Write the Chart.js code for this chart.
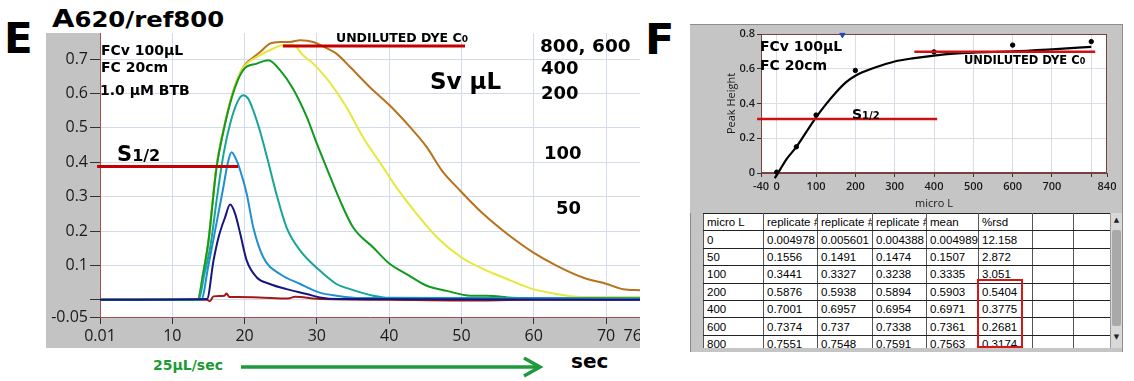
<!DOCTYPE html>
<html><head><meta charset="utf-8">
<script src="https://cdn.jsdelivr.net/npm/chart.js@4.4.1/dist/chart.umd.min.js"></script>
<style>
html,body{margin:0;padding:0;background:#fff}
body{width:1134px;height:381px;position:relative;overflow:hidden}
.t{position:absolute;font-family:"DejaVu Sans",sans-serif;font-weight:bold;color:#000;white-space:nowrap;line-height:1}
canvas{position:absolute}
#frameF{position:absolute;left:690px;top:24px;width:431px;height:327px;background:#c5c5c5;border:1px solid #8c8c8c;border-bottom:none}
#tblWrap{position:absolute;left:703px;top:213px;width:407px;height:135px;overflow:hidden;background:#fff}
#tbl{border-collapse:collapse;table-layout:fixed;width:407px;font-family:"Liberation Sans",Arial,sans-serif;font-size:11.5px;color:#000}
#tbl td{height:16.4px;padding:0 0 0 3px;border-left:1px solid #555;border-right:1px solid #555;border-top:1.6px solid #222;border-bottom:1.6px solid #222;overflow:hidden;white-space:nowrap;line-height:16px}
#scroll{position:absolute;left:1110px;top:213px;width:12px;height:135px;background:#d9d9d9;border-left:1px solid #999;box-sizing:border-box}
#thumb{position:absolute;left:1px;top:17px;width:9px;height:96px;background:#a9a9a9;border-radius:2px}
.arr{position:absolute;left:1px;width:9px;font-size:7px;line-height:9px;text-align:center;color:#222;font-family:"DejaVu Sans",sans-serif}
#redbox{position:absolute;left:977px;top:279px;width:46px;height:69px;border:2px solid #d41818;box-sizing:border-box}
</style></head>
<body>
<div id="frameF"></div>
<canvas id="cE" width="594" height="315" style="left:46px;top:33px"></canvas>
<canvas id="cF" width="432" height="188" style="left:690px;top:25px"></canvas>
<div id="tblWrap"><table id="tbl"></table></div>
<div id="scroll"><div class="arr" style="top:3px">▲</div><div id="thumb"></div><div class="arr" style="top:120px">▼</div></div>
<div id="redbox"></div>

<div class="t" style="left:4px;top:17.5px;font-size:42px">E</div>
<div class="t" style="left:52px;top:6px;font-size:25px;transform:scaleX(1.16);transform-origin:left"><span>A</span><span style="font-size:21px">620/ref800</span></div>
<div class="t" style="left:645px;top:17.5px;font-size:43px">F</div>

<div class="t" style="left:101px;top:43px;font-size:14px">FCv 100µL</div>
<div class="t" style="left:101px;top:60px;font-size:14px">FC 20cm</div>
<div class="t" style="left:100px;top:83px;font-size:14px">1.0 µM BTB</div>
<div class="t" style="left:117px;top:144px;font-size:21px">S<span style="font-size:16px">1/2</span></div>
<div class="t" style="left:336px;top:31.5px;font-size:12.5px">UNDILUTED DYE C<span style="font-size:9px">0</span></div>
<div class="t" style="left:430px;top:69.5px;font-size:23px">Sv µL</div>
<div class="t" style="left:540px;top:37px;font-size:18.5px">800, 600</div>
<div class="t" style="left:541px;top:58.5px;font-size:18px">400</div>
<div class="t" style="left:541px;top:83.5px;font-size:18px">200</div>
<div class="t" style="left:544px;top:143.5px;font-size:18px">100</div>
<div class="t" style="left:556px;top:198.5px;font-size:18px">50</div>
<div class="t" style="left:153px;top:358px;font-size:14px;color:#1b9a35">25µL/sec</div>
<div class="t" style="left:571px;top:351px;font-size:20px">sec</div>
<svg style="position:absolute;left:0;top:0" width="1134" height="381">
  <line x1="241" y1="367" x2="538" y2="367" stroke="#1e9a3c" stroke-width="3.5"/>
  <polyline points="524,358 540,367 524,376" fill="none" stroke="#1e9a3c" stroke-width="3.5"/>
</svg>

<div class="t" style="left:760px;top:38.5px;font-size:14px">FCv 100µL</div>
<div class="t" style="left:760px;top:58px;font-size:14px">FC 20cm</div>
<div class="t" style="left:964px;top:55.3px;font-size:11.5px">UNDILUTED DYE C<span style="font-size:8px">0</span></div>
<div class="t" style="left:852px;top:106.5px;font-size:14px">S<span style="font-size:10px">1/2</span></div>

<script>
// ================= Panel E : A620/ref800 versus time (s) =================
const t800=[0,13.5,14.3,15.0,16.1,17.1,18.4,19.5,20.3,21.2,22.1,23.5,24.9,26.3,27.7,29.5,31.4,32.7,34.6,37.3,40.1,42.9,45.2,47.3,49.8,53.0,56.3,59.9,63.2,66.8,70.1,72.4,74.7];
const v800=[0,0,0.08,0.17,0.385,0.495,0.605,0.665,0.69,0.705,0.72,0.745,0.75,0.75,0.755,0.75,0.731,0.716,0.677,0.619,0.565,0.502,0.444,0.376,0.318,0.25,0.192,0.138,0.099,0.065,0.046,0.031,0.028];
const t600=[0,13.5,14.3,15.0,16.1,17.1,18.4,19.5,20.3,22.1,24.0,25.4,26.7,28.1,29.5,30.9,31.8,34.1,36.4,38.7,41.0,43.8,46.6,50.0,53.5,55.8,59.9,63.2,65.9,70,74.7];
const v600=[0,0,0.08,0.17,0.385,0.495,0.605,0.665,0.687,0.711,0.731,0.741,0.741,0.711,0.687,0.655,0.632,0.56,0.472,0.40,0.327,0.25,0.182,0.123,0.085,0.065,0.031,0.017,0.009,0.008,0.008];
const t400=[0,13.5,14.3,15.0,16.1,17.1,18.4,19.8,21.7,23.3,24.9,26.7,28.6,30.0,31.4,33.2,35.0,37.8,40.1,42.4,45.2,48.0,51.2,53.5,57,60,74.7];
const v400=[0,0,0.08,0.17,0.381,0.493,0.60,0.668,0.687,0.697,0.668,0.614,0.532,0.454,0.381,0.289,0.211,0.152,0.104,0.075,0.041,0.026,0.012,0.012,0.006,0.005,0.004];
const t200=[0,13.6,14.5,15.3,16.2,17.1,18.0,19.0,19.8,20.5,21.2,22.1,23.1,24.4,25.8,27.7,30.4,32.7,34.6,37.8,40,74.7];
const v200=[0,0,0.08,0.16,0.30,0.425,0.512,0.575,0.595,0.585,0.551,0.493,0.415,0.308,0.211,0.143,0.085,0.046,0.031,0.012,0.006,0.004];
const t100=[0,14.0,15.0,16.0,17.0,17.7,18.2,18.8,19.4,20.3,21.2,22.6,24.9,27.7,30.4,32.7,36,74.7];
const v100=[0,0,0.10,0.21,0.32,0.40,0.429,0.41,0.376,0.308,0.211,0.123,0.075,0.046,0.021,0.012,0.005,0.004];
const t50=[0,14.8,15.7,16.4,17.3,18.0,18.7,19.4,20.3,21.7,23.5,25.8,28.6,30.4,33,74.7];
const v50=[0,0.002,0.114,0.182,0.24,0.277,0.25,0.192,0.114,0.065,0.046,0.031,0.017,0.007,0.002,0];
const t0=[0,14.8,15.2,15.7,16.5,17.2,17.5,17.9,19,22,26,27,30,40,50,60,74.7];
const v0=[0,0,-0.004,0.010,0.011,0.012,0.018,0.008,0.008,0.007,0.004,0.009,0.003,0,-0.002,0,0];
const halfLineEx=[-0.4,19.1], halfLineEy=[0.388,0.388];
const dyeLineEx=[25.3,50.5], dyeLineEy=[0.738,0.738];
const xTicksE=[0,10,20,30,40,50,60,70,73.7];
const xLabelsE=['0.01','10','20','30','40','50','60','70','76'];
const yTicksE=[-0.05,0,0.1,0.2,0.3,0.4,0.5,0.6,0.7];
const yLabelsE=['-0.05','','0.1','0.2','0.3','0.4','0.5','0.6','0.7'];

// ================= Panel F : Peak Height versus micro L =================
const microL=[0,50,100,200,400,600,800];
const rep1=[0.004978,0.1556,0.3441,0.5876,0.7001,0.7374,0.7551];
const rep2=[0.005601,0.1491,0.3327,0.5938,0.6957,0.737,0.7548];
const rep3=[0.004388,0.1474,0.3238,0.5894,0.6954,0.7338,0.7591];
const meanPH=[0.004989,0.1507,0.3335,0.5903,0.6971,0.7361,0.7563];
const rsd=[12.158,2.872,3.051,0.5404,0.3775,0.2681,0.3174];
const tableHeaders=['micro L','replicate #1','replicate #2','replicate #3','mean','%rsd','',''];
const fitX=[-5,0,10,25,50,75,100,125,150,175,200,250,300,350,400,450,500,600,700,800];
const fitY=[-0.03,-0.012,0.025,0.08,0.15,0.235,0.32,0.395,0.462,0.52,0.56,0.607,0.642,0.661,0.676,0.687,0.693,0.70,0.712,0.726];
const halfLineFx=[-50,408], halfLineFy=[0.311,0.311];
const dyeLineFx=[350,810], dyeLineFy=[0.698,0.698];
const cursorFx=[167], cursorFy=[0.795];
const xTicksF=[-40,0,100,200,300,400,500,600,700,800,840];
const xLabelsF=['-40','0','100','200','300','400','500','600','700','','840'];
const yTicksF=[0,0.2,0.4,0.6,0.8];
const yLabelsF=['0','0.2','0.4','0.6','0.8'];

const pts=(xs,ys)=>xs.map((x,i)=>({x:x,y:ys[i]}));

const frameBg={id:'frameBg',
  beforeDraw(c,a,o){const ctx=c.ctx,r=c.chartArea;ctx.save();ctx.fillStyle=o.gray;ctx.fillRect(0,0,c.width,c.height);
    ctx.fillStyle='#fff';ctx.fillRect(r.left,r.top,r.right-r.left,r.bottom-r.top);ctx.restore();},
  beforeDatasetsDraw(c,a,o){if(!o.box)return;const ctx=c.ctx,r=c.chartArea;ctx.save();ctx.strokeStyle=o.box;ctx.lineWidth=1;
    ctx.strokeRect(r.left+0.5,r.top+0.5,r.right-r.left-1,r.bottom-r.top-1);ctx.restore();}
};

function line(xs,ys,color,w,extra){return Object.assign({data:pts(xs,ys),borderColor:color,borderWidth:w,pointRadius:0,fill:false,cubicInterpolationMode:'monotone'},extra||{});}

const gridE='#d3dcec';
new Chart(document.getElementById('cE'),{
  type:'line',
  data:{datasets:[
    line(halfLineEx,halfLineEy,'#c40000',3,{clip:false,cubicInterpolationMode:'default',tension:0}),
    line(dyeLineEx,dyeLineEy,'#c40000',3,{clip:false,cubicInterpolationMode:'default',tension:0}),
    line(t50,v50,'#16167e',2),
    line(t100,v100,'#1f8fcf',2),
    line(t200,v200,'#16a596',2),
    line(t400,v400,'#109a1e',2),
    line(t600,v600,'#e6e838',2),
    line(t800,v800,'#b8721c',2),
    line(t0,v0,'#a01818',2)
  ]},
  options:{responsive:false,animation:false,devicePixelRatio:1,layout:{padding:0},
    plugins:{legend:{display:false},tooltip:{enabled:false},frameBg:{gray:'#c3c3c3'}},
    scales:{
      x:{type:'linear',min:0,max:74.7,
        afterBuildTicks(s){s.ticks=xTicksE.map(v=>({value:v}));},
        afterFit(s){s.height=31;s.paddingLeft=0;s.paddingRight=0;},
        ticks:{callback:(v,i)=>xLabelsE[i],autoSkip:false,maxRotation:0,padding:3,color:'#1a1a1a',font:{family:'Open Sans',size:16}},
        grid:{color:c=>(c.tick&&c.tick.value===73.7)?'rgba(0,0,0,0)':gridE,tickColor:c=>(c.tick&&c.tick.value===73.7)?'rgba(0,0,0,0)':'#333',tickLength:7,lineWidth:1},
        border:{color:'#a85050',width:1}},
      y:{type:'linear',min:-0.05,max:0.776,
        afterBuildTicks(s){s.ticks=yTicksE.map(v=>({value:v}));},
        afterFit(s){s.width=54;s.paddingTop=0;s.paddingBottom=0;},
        ticks:{callback:(v,i)=>yLabelsE[i],autoSkip:false,padding:2,color:'#1a1a1a',font:{family:'Open Sans',size:16}},
        grid:{color:gridE,tickColor:'#333',tickLength:10,lineWidth:1},
        border:{color:'#a85050',width:1}}
    }},
  plugins:[frameBg]
});

new Chart(document.getElementById('cF'),{
  type:'line',
  data:{datasets:[
    line(halfLineFx,halfLineFy,'#d01010',2.5,{clip:false,cubicInterpolationMode:'default',tension:0}),
    line(dyeLineFx,dyeLineFy,'#d01010',2.5,{clip:false,cubicInterpolationMode:'default',tension:0}),
    {data:pts(cursorFx,cursorFy),showLine:false,pointStyle:'triangle',rotation:180,pointRadius:3,backgroundColor:'#2244bb',borderColor:'#2244bb',clip:false},
    {data:pts(microL,meanPH),showLine:false,pointRadius:2.2,backgroundColor:'#000',borderColor:'#000',clip:false},
    line(fitX,fitY,'#000',2.2,{clip:false})
  ]},
  options:{responsive:false,animation:false,devicePixelRatio:1,layout:{padding:{left:33,top:9,right:15,bottom:0}},
    plugins:{legend:{display:false},tooltip:{enabled:false},frameBg:{gray:'#c5c5c5',box:'#7a4040'}},
    scales:{
      x:{type:'linear',min:-40,max:840,
        afterBuildTicks(s){s.ticks=xTicksF.map(v=>({value:v}));},
        afterFit(s){s.height=40;s.paddingLeft=0;s.paddingRight=0;},
        ticks:{callback:(v,i)=>xLabelsF[i],autoSkip:false,maxRotation:0,padding:3,color:'#1a1a1a',font:{family:'Open Sans',size:11,weight:'600'}},
        grid:{color:c=>(c.tick&&(c.tick.value===-40||c.tick.value===840))?'rgba(0,0,0,0)':'#d8dde8',tickColor:'#333',tickLength:4},
        border:{color:'#7a4040'},
        title:{display:true,text:'micro L',color:'#1a1a1a',font:{family:'Open Sans',size:11},padding:{top:0,bottom:3}}},
      y:{type:'linear',min:0,max:0.8,
        afterBuildTicks(s){s.ticks=yTicksF.map(v=>({value:v}));},
        afterFit(s){s.width=38;s.paddingTop=0;s.paddingBottom=0;},
        ticks:{callback:(v,i)=>yLabelsF[i],autoSkip:false,padding:2,color:'#1a1a1a',font:{family:'Open Sans',size:11,weight:'600'}},
        grid:{color:c=>(c.tick&&(c.tick.value===0||c.tick.value===0.8))?'rgba(0,0,0,0)':'#d8dde8',tickColor:'#333',tickLength:4},
        border:{color:'#7a4040'},
        title:{display:true,text:'Peak Height',color:'#1a1a1a',font:{family:'Open Sans',size:11},padding:{top:2,bottom:2}}}
    }},
  plugins:[frameBg]
});

// table built from the data arrays
const colW=[60,54,55,54,52,54,41,37];
const tbl=document.getElementById('tbl');
const cg=document.createElement('colgroup');
colW.forEach(w=>{const c=document.createElement('col');c.style.width=w+'px';cg.appendChild(c);});
tbl.appendChild(cg);
function addRow(cells){const tr=document.createElement('tr');cells.forEach(v=>{const td=document.createElement('td');td.textContent=v;tr.appendChild(td);});tbl.appendChild(tr);}
addRow(tableHeaders);
microL.forEach((m,i)=>addRow([String(m),String(rep1[i]),String(rep2[i]),String(rep3[i]),String(meanPH[i]),String(rsd[i]),'','']));
</script>
</body></html>
